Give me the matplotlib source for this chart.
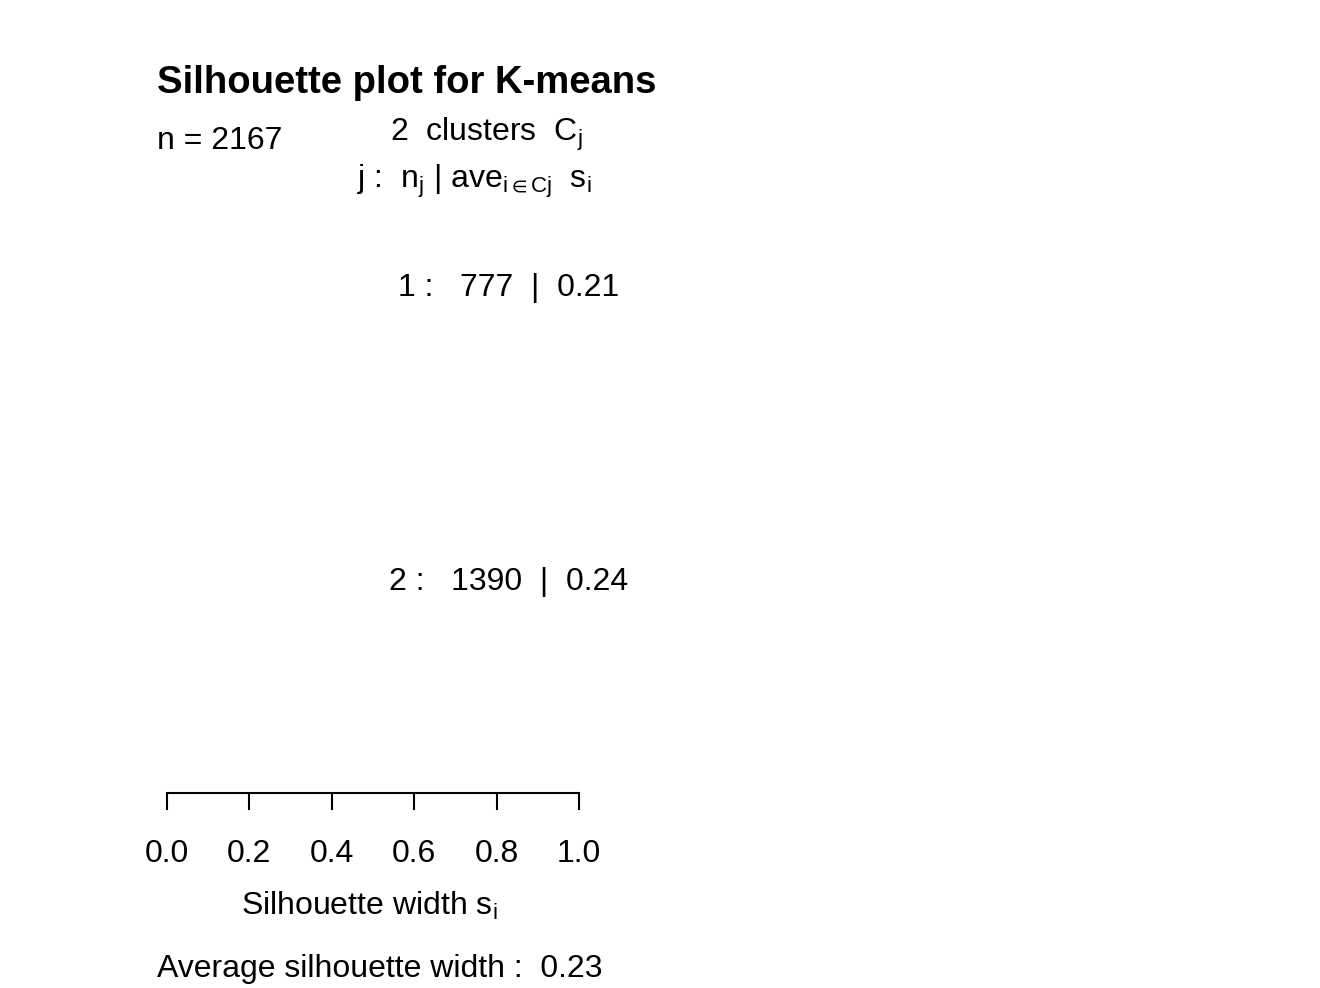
import matplotlib
matplotlib.use("Agg")
import matplotlib.pyplot as plt
from matplotlib.transforms import offset_copy

plt.rcParams['font.family'] = ['Liberation Sans', 'DejaVu Sans']
plt.rcParams['mathtext.fontset'] = 'custom'
plt.rcParams['mathtext.rm'] = 'Liberation Sans'
plt.rcParams['mathtext.it'] = 'Liberation Sans'
plt.rcParams['mathtext.fallback'] = 'stixsans'

# ---- data ----
title = "Silhouette plot for K-means"
n_total = 2167
clusters = [1, 2]
cluster_sizes = [777, 1390]
cluster_avg = [0.21, 0.24]
overall_avg = 0.23
xticks = [0.0, 0.2, 0.4, 0.6, 0.8, 1.0]
xtick_labels = ["0.0", "0.2", "0.4", "0.6", "0.8", "1.0"]
gap = 2

W, H = 1320, 988
fig = plt.figure(figsize=(W / 100, H / 100), dpi=100)

def fx(px):
    return px / W

def fy(py):
    return 1 - py / H

FS = 23

ax = fig.add_axes([fx(167), fy(793), fx(579) - fx(167), fy(170) - fy(793)])
ax.set_xlim(0, 1)
total_rows = sum(cluster_sizes) + gap * (len(cluster_sizes) - 1)
ax.set_ylim(total_rows + 95, -36)
for s in ['top', 'right', 'left']:
    ax.spines[s].set_visible(False)
ax.spines['bottom'].set_bounds(0, 1)
ax.spines['bottom'].set_linewidth(1.5)
ax.set_yticks([])
ax.set_xticks(xticks)
ax.set_xticklabels(xtick_labels, fontsize=FS)
ax.tick_params(axis='x', length=12.5, width=1.5, pad=20.5)
ax.patch.set_alpha(0)

# cluster stats labels, placed at centre of each cluster block
tr = offset_copy(ax.transData, fig=fig, x=0, y=-3, units='dots')
start = 0
for c, n, a in zip(clusters, cluster_sizes, cluster_avg):
    mid = start + n / 2
    ax.text(0.83, mid, f"{c} :   {n}  |  {a:.2f}", ha='center', va='center',
            fontsize=FS, clip_on=False, transform=tr)
    start += n + gap

fig.text(fx(157), fy(83), title, fontsize=27.5, fontweight='bold', ha='left', va='center')
fig.text(fx(157), fy(141), f"n = {n_total}", fontsize=FS, ha='left', va='center')
fig.text(fx(486), fy(134), f"{len(clusters)}  clusters  " + r"$\mathregular{C_j}$",
         fontsize=FS, ha='center', va='center')
fig.text(fx(474), fy(181),
         r"j :  $\mathregular{n_j}$ | $\mathregular{ave_{i\in Cj}}$  $\mathregular{s_i}$",
         fontsize=FS, ha='center', va='center')
fig.text(fx(369), fy(906), r"Silhouette width $\mathregular{s_i}$", fontsize=FS,
         ha='center', va='center')
fig.text(fx(157), fy(969), f"Average silhouette width :  {overall_avg:.2f}",
         fontsize=FS, ha='left', va='center')

fig.savefig("out.png", dpi=100)
